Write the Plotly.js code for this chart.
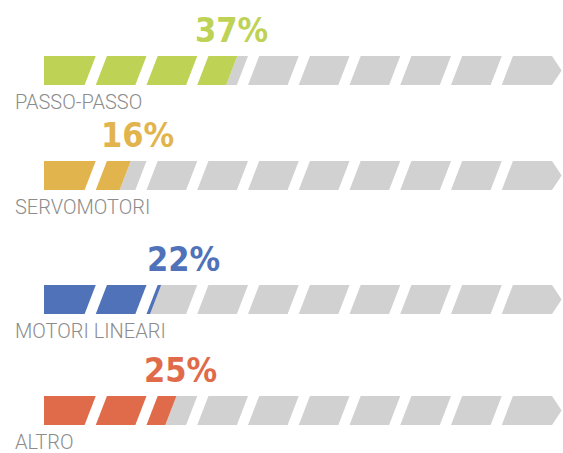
<!DOCTYPE html>
<html>
<head>
<meta charset="utf-8">
<script src="https://cdn.plot.ly/plotly-3.0.1.min.js"></script>
<style>html,body{margin:0;padding:0;background:#fff;}#chart{width:563px;height:453px;}</style>
</head>
<body>
<div id="chart"></div>
<script>
// ---- data ----
var categories = ["PASSO-PASSO", "SERVOMOTORI", "MOTORI LINEARI", "ALTRO"];
var values = [37, 16, 22, 25];
var valueLabels = ["37%", "16%", "22%", "25%"];

// ---- layout / style constants ----
var colors = ["#BED255", "#E2B44E", "#5072B9", "#E06B4A"];
var trackColor = "#D1D1D1";
var rowTop = [56, 161, 285, 396];     // px (y axis is in pixel units, reversed)
var barH = 29;
var labelNudge = [0, 2.4, 5.5, 1.8];  // x shift of % text (axis units)
var pxPerUnit = 5.075, x0px = 44, W = 563, H = 453;
var slant = 2.2, stripeW = 7.8, period = 10, offset = 0.2, nStripes = 10;

function stripePoly(i, top) {
  var bot = top + barH, mid = top + barH / 2;
  var b = period * i + offset;
  if (i === 0) return [[0, bot], [b + stripeW, bot], [b + slant + stripeW, top], [0, top]];
  if (i === nStripes - 1) return [[b, bot], [100.1, bot], [102.0, mid], [100.1, top], [b + slant, top]];
  return [[b, bot], [b + stripeW, bot], [b + slant + stripeW, top], [b + slant, top]];
}
function clip(poly, v, top, keepInside) {
  function f(p) {
    var t = (top + barH - p[1]) / barH; // 0 bottom, 1 top
    var xl = v - slant / 2 + slant * t;
    var d = p[0] - xl;
    return keepInside ? d : -d;
  }
  var out = [];
  for (var k = 0; k < poly.length; k++) {
    var P = poly[k], Q = poly[(k + 1) % poly.length];
    var fp = f(P), fq = f(Q);
    if (fp <= 0) out.push(P);
    if ((fp < 0 && fq > 0) || (fp > 0 && fq < 0)) {
      var r = fp / (fp - fq);
      out.push([P[0] + (Q[0] - P[0]) * r, P[1] + (Q[1] - P[1]) * r]);
    }
  }
  return out;
}
var traces = [];
function addPoly(pts, col, name) {
  if (pts.length < 3) return;
  traces.push({
    type: "scatter", mode: "lines", fill: "toself", fillcolor: col,
    line: {width: 0, color: col},
    x: pts.map(function (p) { return p[0]; }).concat([pts[0][0]]),
    y: pts.map(function (p) { return p[1]; }).concat([pts[0][1]]),
    hoverinfo: "skip", showlegend: false, name: name
  });
}
var annotations = [];
categories.forEach(function (cat, r) {
  var top = rowTop[r];
  for (var i = 0; i < nStripes; i++) {
    var poly = stripePoly(i, top);
    addPoly(clip(poly, values[r], top, false), trackColor, cat);
    addPoly(clip(poly, values[r], top, true), colors[r], cat);
  }
  annotations.push({
    xref: "x", yref: "y", x: values[r] + labelNudge[r], y: top - 4,
    xanchor: "center", yanchor: "bottom", showarrow: false,
    text: "<b>" + valueLabels[r] + "</b>",
    font: {family: "DejaVu Sans Condensed, DejaVu Sans, Roboto", size: 34, color: colors[r], weight: 700}
  });
  annotations.push({
    xref: "paper", yref: "y", x: 13 / W, y: top + barH + 3,
    xanchor: "left", yanchor: "top", showarrow: false,
    text: cat,
    font: {family: "Roboto, DejaVu Sans", size: 20, color: "#8C8C8C", weight: 300}
  });
});

var layout = {
  width: W, height: H,
  margin: {l: 0, r: 0, t: 0, b: 0},
  paper_bgcolor: "#ffffff", plot_bgcolor: "#ffffff",
  xaxis: {range: [-x0px / pxPerUnit, (W - x0px) / pxPerUnit], visible: false, fixedrange: true},
  yaxis: {range: [H, 0], visible: false, fixedrange: true},
  annotations: annotations,
  showlegend: false
};
Plotly.newPlot("chart", traces, layout, {displayModeBar: false, staticPlot: true});
</script>
</body>
</html>
